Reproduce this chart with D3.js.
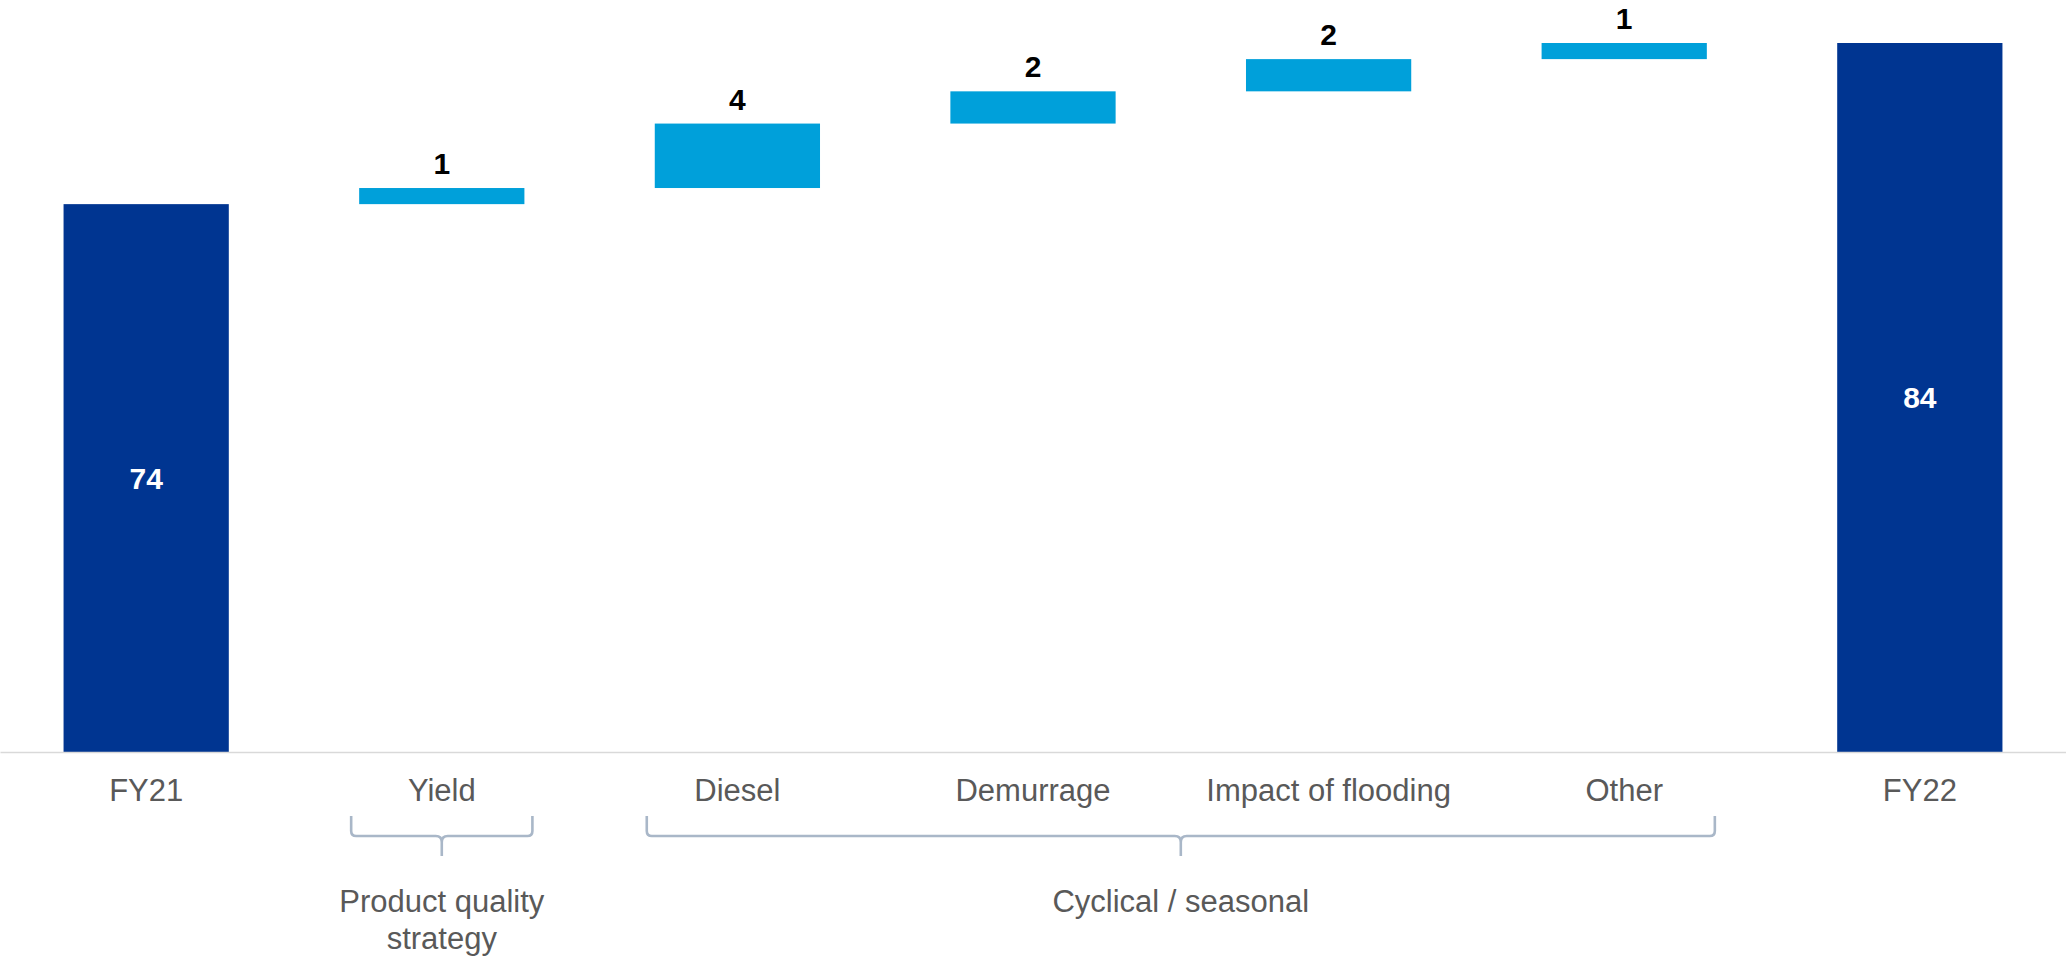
<!DOCTYPE html>
<html>
<head>
<meta charset="utf-8">
<script src="https://cdn.jsdelivr.net/npm/d3@7"></script>
<style>
  html, body { margin: 0; padding: 0; background: #ffffff; }
  svg { display: block; font-family: "Liberation Sans", Arial, sans-serif; }
</style>
</head>
<body>
<svg id="chart" width="2066" height="958"></svg>
<script>
// Bridge from FY21 to FY22
const categories = ["FY21", "Yield", "Diesel", "Demurrage", "Impact of flooding", "Other", "FY22"];
const values     = [74, 1, 4, 2, 2, 1, 84];
const kinds      = ["total", "delta", "delta", "delta", "delta", "delta", "total"];

// Brackets grouping the drivers underneath the axis
const groupLines = [["Product quality", "strategy"], ["Cyclical / seasonal"]];
const groupFrom  = ["Yield", "Diesel"];
const groupTo    = ["Yield", "Other"];

const W = 2066, H = 958;
const baseY = 752, topY = 43;
const axisFloor = 40;

const colTotal = "#003591";
const colDelta = "#00A0DA";
const colText  = "#595959";
const colBrace = "#A9B7C8";

// Running bottoms / tops for the waterfall
let running = 0;
const bars = categories.map((c, i) => {
  let lo, hi;
  if (kinds[i] === "total") { lo = axisFloor; hi = values[i]; running = values[i]; }
  else { lo = running; hi = running + values[i]; running = hi; }
  return { cat: c, value: values[i], kind: kinds[i], lo, hi };
});

const svg = d3.select("#chart");

const x = d3.scaleBand()
  .domain(categories)
  .range([0, W])
  .paddingInner(0.441)
  .paddingOuter(0.215);

const y = d3.scaleLinear()
  .domain([axisFloor, d3.max(values)])
  .range([baseY, topY]);

// Bars
svg.append("g").selectAll("rect")
  .data(bars)
  .join("rect")
  .attr("x", d => x(d.cat))
  .attr("width", x.bandwidth())
  .attr("y", d => y(d.hi))
  .attr("height", d => y(d.lo) - y(d.hi))
  .attr("fill", d => d.kind === "total" ? colTotal : colDelta);

// Value labels: inside totals, above the steps
svg.append("g").selectAll("text")
  .data(bars)
  .join("text")
  .attr("x", d => x(d.cat) + x.bandwidth() / 2)
  .attr("y", d => d.kind === "total" ? (y(d.lo) + y(d.hi)) / 2 : y(d.hi) - 14)
  .attr("dy", d => d.kind === "total" ? "0.36em" : 0)
  .attr("text-anchor", "middle")
  .attr("font-size", 30)
  .attr("font-weight", "bold")
  .attr("fill", d => d.kind === "total" ? "#ffffff" : "#000000")
  .text(d => d.value);

// Category axis
const axis = svg.append("g")
  .attr("transform", `translate(0,${baseY})`)
  .call(d3.axisBottom(x).tickSize(0).tickSizeOuter(0));
axis.select(".domain").attr("stroke", "#D9D9D9").attr("stroke-width", 1.6);
axis.selectAll(".tick text")
  .attr("y", 49)
  .attr("dy", 0)
  .attr("font-size", 31)
  .attr("font-family", "Liberation Sans, Arial, sans-serif")
  .attr("fill", colText);

// Group brackets
const braceTop = 816, braceMid = 836, braceTip = 856, pad = 8, r = 5;
groupFrom.forEach((f, i) => {
  const x0 = x(f) - pad;
  const x1 = x(groupTo[i]) + x.bandwidth() + pad;
  const xc = (x0 + x1) / 2;
  const p = d3.path();
  p.moveTo(x0, braceTop);
  p.lineTo(x0, braceMid - r);
  p.quadraticCurveTo(x0, braceMid, x0 + r, braceMid);
  p.lineTo(xc - 6, braceMid);
  p.quadraticCurveTo(xc, braceMid, xc, braceMid + 6);
  p.lineTo(xc, braceTip);
  p.moveTo(x1, braceTop);
  p.lineTo(x1, braceMid - r);
  p.quadraticCurveTo(x1, braceMid, x1 - r, braceMid);
  p.lineTo(xc + 6, braceMid);
  p.quadraticCurveTo(xc, braceMid, xc, braceMid + 6);
  svg.append("path")
    .attr("d", p.toString())
    .attr("fill", "none")
    .attr("stroke", colBrace)
    .attr("stroke-width", 2.6);

  const t = svg.append("text")
    .attr("x", xc)
    .attr("y", 912)
    .attr("text-anchor", "middle")
    .attr("font-size", 31)
    .attr("fill", colText);
  groupLines[i].forEach((line, j) => {
    t.append("tspan")
      .attr("x", xc)
      .attr("dy", j === 0 ? 0 : 36.5)
      .text(line);
  });
});
</script>
</body>
</html>
